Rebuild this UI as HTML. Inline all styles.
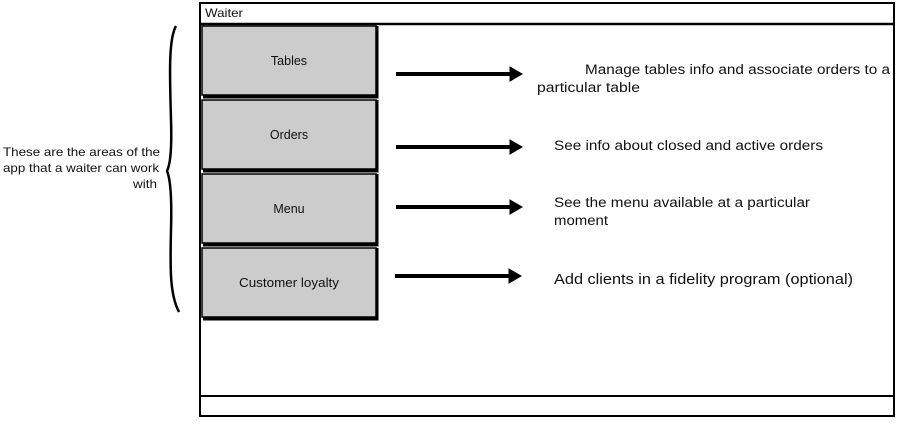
<!DOCTYPE html>
<html><head><style>
body{margin:0;background:#fff;width:898px;height:419px;overflow:hidden}
svg text{font-family:"Liberation Sans",sans-serif;fill:#111}
</style></head><body>
<svg width="898" height="419" viewBox="0 0 898 419" xmlns="http://www.w3.org/2000/svg">
<rect x="200" y="3" width="694" height="413" fill="#fff" stroke="#000" stroke-width="2"/>
<line x1="200" y1="24" x2="894" y2="24" stroke="#000" stroke-width="2.5"/>
<line x1="200" y1="396" x2="894" y2="396" stroke="#000" stroke-width="2"/>
<text x="205" y="17" font-size="12" textLength="38" lengthAdjust="spacingAndGlyphs">Waiter</text>
<g stroke="#000">
<rect x="202" y="26" width="174" height="69" fill="#cccccc" stroke-width="1.5"/>
<path d="M377 26 V97 H203" fill="none" stroke-width="3"/>
<rect x="202" y="100" width="174" height="69" fill="#cccccc" stroke-width="1.5"/>
<path d="M377 100 V171 H203" fill="none" stroke-width="3"/>
<rect x="202" y="174" width="174" height="69" fill="#cccccc" stroke-width="1.5"/>
<path d="M377 174 V245 H203" fill="none" stroke-width="3"/>
<rect x="202" y="248" width="174" height="69" fill="#cccccc" stroke-width="1.5"/>
<path d="M377 248 V319 H203" fill="none" stroke-width="3"/>
</g>
<g font-size="12.5" text-anchor="middle">
<text x="289" y="65">Tables</text>
<text x="289" y="139">Orders</text>
<text x="289" y="213">Menu</text>
<text x="289" y="287" textLength="100" lengthAdjust="spacingAndGlyphs">Customer loyalty</text>
</g>
<g stroke="#000" stroke-width="4" fill="#000">
<line x1="396" y1="74" x2="512" y2="74"/><path d="M510 67 L522 74 L510 81 Z" stroke-width="1"/>
<line x1="396" y1="147" x2="512" y2="147"/><path d="M510 140 L522 147 L510 154 Z" stroke-width="1"/>
<line x1="396" y1="207" x2="512" y2="207"/><path d="M510 200 L522 207 L510 214 Z" stroke-width="1"/>
<line x1="395" y1="276" x2="511" y2="276"/><path d="M509 269 L521 276 L509 283 Z" stroke-width="1"/>
</g>
<g font-size="13.5" lengthAdjust="spacingAndGlyphs">
<text x="585" y="74" textLength="305" lengthAdjust="spacingAndGlyphs">Manage tables info and associate orders to a</text>
<text x="537" y="92" textLength="103" lengthAdjust="spacingAndGlyphs">particular table</text>
<text x="554" y="150" textLength="269" lengthAdjust="spacingAndGlyphs">See info about closed and active orders</text>
<text x="554" y="207" textLength="256" lengthAdjust="spacingAndGlyphs">See the menu available at a particular</text>
<text x="554" y="225" textLength="54" lengthAdjust="spacingAndGlyphs">moment</text>
<text x="554" y="284" font-size="14.5" textLength="299" lengthAdjust="spacingAndGlyphs">Add clients in a fidelity program (optional)</text>
</g>
<g font-size="12">
<text x="3" y="156" textLength="157" lengthAdjust="spacingAndGlyphs">These are the areas of the</text>
<text x="3" y="172" textLength="156" lengthAdjust="spacingAndGlyphs">app that a waiter can work</text>
<text x="133" y="188" textLength="24" lengthAdjust="spacingAndGlyphs">with</text>
</g>
<path d="M176 26 C168 40 170 80 171 120 C172 150 170 165 167 171 C170 178 172 195 171 230 C170 270 170 295 179 312" fill="none" stroke="#000" stroke-width="2.5"/>
</svg>
</body></html>
